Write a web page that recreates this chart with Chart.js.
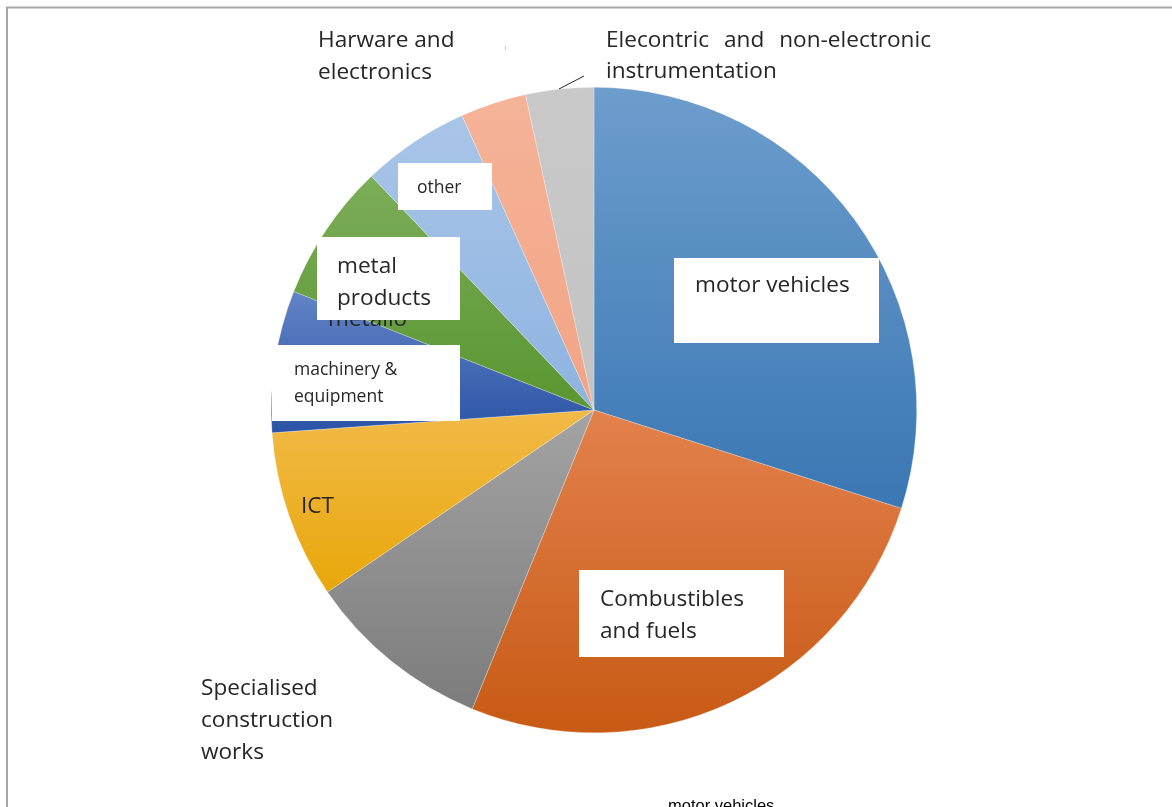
<!DOCTYPE html>
<html>
<head>
<meta charset="utf-8">
<title>Pie</title>
<script src="https://cdn.jsdelivr.net/npm/chart.js@4/dist/chart.umd.min.js"></script>
<style>
  html, body { margin: 0; padding: 0; background: #fff; }
  #wrap { width: 1172px; height: 807px; position: relative; }
</style>
</head>
<body>
<div id="wrap"><canvas id="pie"></canvas></div>
<script>
// data
const sectors = [
  "motor vehicles",
  "Combustibles and fuels",
  "Specialised construction works",
  "ICT",
  "machinery & equipment",
  "metal products",
  "other",
  "Harware and electronics",
  "Elecontric and non-electronic instrumentation"
];
const shares = [29.9, 26.2, 9.3, 8.4, 7.1, 6.9, 5.4, 3.3, 3.4];
const lightColors = ["#6d9dcd", "#e3814d", "#a3a3a3", "#f1ba48", "#6283c6", "#7cad58", "#a9c5e8", "#f5b398", "#c9c9c9"];
const darkColors  = ["#3a77b3", "#c75a14", "#7c7c7c", "#e8a70a", "#2b54a6", "#5a9631", "#8eb3e0", "#f2a484", "#c3c3c3"];

window.onload = () => {
  const FONT = "'Open Sans', 'Noto Sans', sans-serif";
  const TEXT = "#262626";

  // y-range of each slice, so the gradient runs over the slice itself
  function sliceRange(i, area) {
    const cx = (area.left + area.right) / 2;
    const cy = (area.top + area.bottom) / 2;
    const r = Math.min(area.right - area.left, area.bottom - area.top) / 2;
    const total = shares.reduce((a, b) => a + b, 0);
    let start = 0;
    for (let k = 0; k < i; k++) start += shares[k] / total * 360;
    const end = start + shares[i] / total * 360;
    const ys = [cy];
    for (let a = start; a <= end; a += 2) ys.push(cy - r * Math.cos(a * Math.PI / 180));
    ys.push(cy - r * Math.cos(end * Math.PI / 180));
    return [Math.min(...ys), Math.max(...ys)];
  }

  function sliceFill(ctx) {
    const chart = ctx.chart;
    const area = chart.chartArea;
    if (!area) return lightColors[ctx.dataIndex];
    const [y0, y1] = sliceRange(ctx.dataIndex, area);
    const g = chart.ctx.createLinearGradient(0, y0, 0, y1);
    g.addColorStop(0, lightColors[ctx.dataIndex]);
    g.addColorStop(1, darkColors[ctx.dataIndex]);
    return g;
  }

  /* ================= FRAME ================= */
  const framePlugin = {
    id: "frame",
    beforeDraw(chart) {
      const c = chart.ctx;
      c.save();
      c.strokeStyle = "#a6a6a6";
      c.lineWidth = 2;
      c.beginPath();
      c.moveTo(7, 807);
      c.lineTo(7, 7.5);
      c.lineTo(1172, 7.5);
      c.stroke();
      c.restore();
    }
  };

  /* ================= LABELS ================= */
  function lines(c, arr, x, y0, step, size) {
    c.font = size + "px " + FONT;
    c.fillStyle = TEXT;
    c.textBaseline = "middle";
    c.textAlign = "left";
    arr.forEach((t, k) => c.fillText(t, x, y0 + k * step));
  }
  function box(c, x, y, w, h) {
    c.fillStyle = "#ffffff";
    c.fillRect(x, y, w, h);
  }

  const labelPlugin = {
    id: "labels",
    afterDatasetsDraw(chart) {
      const c = chart.ctx;
      c.save();

      // outside labels
      lines(c, ["Harware and", "electronics"], 318, 41, 32, 22.6);
      c.font = "22.6px " + FONT;
      c.fillStyle = TEXT;
      c.textBaseline = "middle";
      // justified first line
      const words = ["Elecontric", "and", "non-electronic"];
      const left = 606, right = 931;
      const ws = words.map(w => c.measureText(w).width);
      const gap = (right - left - ws.reduce((a, b) => a + b, 0)) / 2;
      let x = left;
      words.forEach((w, k) => { c.fillText(w, x, 41); x += ws[k] + gap; });
      c.fillText("instrumentation", 606, 72);
      lines(c, ["Specialised", "construction", "works"], 201, 689, 32, 22.6);

      // leader line + tick
      c.strokeStyle = "#262626";
      c.lineWidth = 1;
      c.beginPath();
      c.moveTo(559, 89);
      c.lineTo(584, 76);
      c.stroke();
      c.strokeStyle = "#c8c8c8";
      c.beginPath();
      c.moveTo(505.5, 46);
      c.lineTo(505.5, 50);
      c.stroke();

      // inside labels
      lines(c, ["ICT"], 301, 507, 32, 22.6);
      lines(c, ["metallo"], 328, 320, 32, 22.6);

      box(c, 674, 258, 205, 85);
      lines(c, ["motor vehicles"], 695, 286, 32, 22.6);

      box(c, 579, 570, 205, 87);
      lines(c, ["Combustibles", "and fuels"], 600, 600, 32, 22.6);

      box(c, 317, 237, 143, 83);
      lines(c, ["metal", "products"], 337, 267, 32, 22.6);

      box(c, 272, 345, 188, 76);
      lines(c, ["machinery &", "equipment"], 294, 370, 27, 17.5);

      box(c, 398, 163, 94, 47);
      lines(c, ["other"], 417, 188, 27, 17.5);

      // stray label at the bottom edge
      c.font = "16.5px 'Liberation Sans', Arial, sans-serif";
      c.fillStyle = "#000";
      c.fillText("motor vehicles", 668, 806);

      c.restore();
    }
  };

  /* ================= CHART ================= */
  new Chart(document.getElementById("pie"), {
    type: "pie",
    data: {
      labels: sectors,
      datasets: [{
        data: shares,
        backgroundColor: sliceFill,
        borderColor: "rgba(255,255,255,0.5)",
        borderWidth: 0.5
      }]
    },
    options: {
      responsive: true,
      maintainAspectRatio: false,
      animation: false,
      layout: { padding: { left: 271, right: 255, top: 87, bottom: 74 } },
      plugins: {
        legend: { display: false },
        tooltip: { enabled: false }
      }
    },
    plugins: [framePlugin, labelPlugin]
  });
};
</script>
</body>
</html>
